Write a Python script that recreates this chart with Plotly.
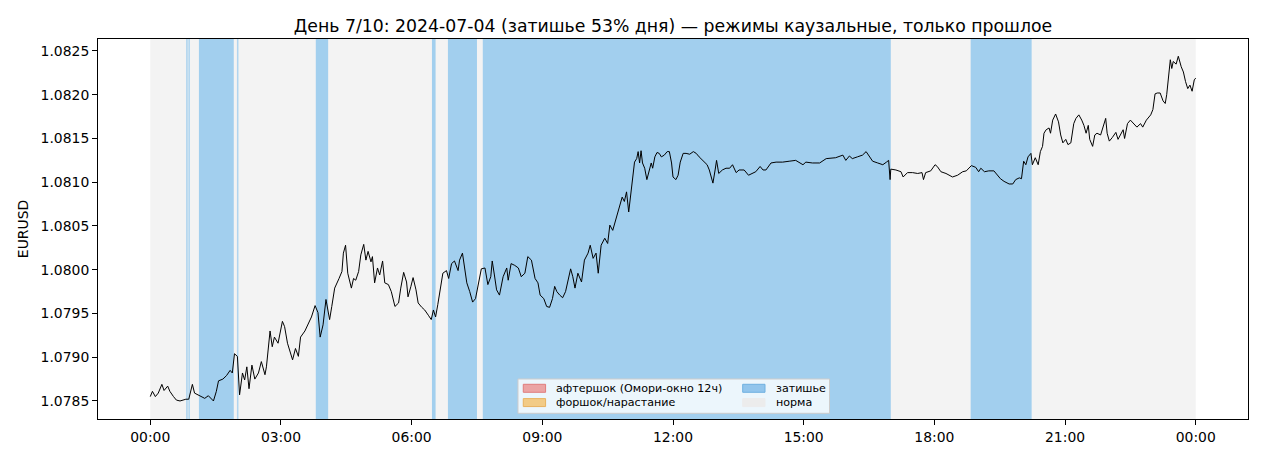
"""Day 7/10 EURUSD with causal regime spans (quiet / normal)."""
import pandas as pd
import plotly.graph_objects as go

DAY = pd.Timestamp("2024-07-04")
FONT = "DejaVu Sans, Arial, sans-serif"

# Colors
C_AFTER_FILL = "#eba4a4"
C_AFTER_EDGE = "#e07c7c"
C_FORE_FILL = "#f2cb86"
C_FORE_EDGE = "#e8b25f"
C_QUIET = "#a2cfee"
C_QUIET_LEG = "#92c5ec"
C_QUIET_EDGE = "#6fb0e0"
C_NORM = "#f3f3f3"

# minutes after midnight and EURUSD price
minutes = [
    0, 3, 7, 11, 16, 19, 24, 27, 32, 36, 41, 49, 53, 58, 61, 68, 75, 80, 87, 91,
    94, 100, 105, 110, 113, 116, 120, 123, 127, 130, 133, 136, 140, 144, 149, 153, 158, 160, 165, 168,
    171, 176, 182, 185, 189, 196, 200, 204, 207, 213, 218, 222, 227, 231, 234, 238, 242, 247, 250, 254,
    260, 264, 266, 269, 272, 277, 280, 283, 287, 290, 294, 297, 300, 304, 306, 309, 313, 316, 320, 323,
    328, 332, 337, 342, 345, 349, 353, 355, 359, 362, 366, 369, 374, 378, 383, 387, 390, 393, 396, 400,
    403, 408, 411, 415, 419, 424, 426, 430, 433, 436, 440, 444, 448, 452, 456, 461, 465, 469, 471, 474,
    477, 481, 486, 491, 493, 497, 502, 507, 511, 516, 520, 525, 530, 534, 537, 542, 546, 550, 554, 557,
    560, 564, 568, 572, 575, 579, 582, 585, 589, 594, 598, 603, 606, 610, 614, 617, 621, 626, 630, 633,
    637, 641, 644, 647, 650, 653, 656, 659, 662, 664, 667, 670, 672, 674, 676, 678, 681, 684, 687, 690,
    692, 695, 698, 701, 704, 708, 712, 715, 718, 720, 724, 727, 730, 734, 738, 743, 748, 752, 756, 760,
    763, 767, 770, 773, 775, 778, 780, 783, 788, 793, 798, 802, 807, 811, 818, 824, 830, 834, 840, 844,
    848, 855, 862, 871, 880, 889, 899, 903, 912, 922, 931, 944, 954, 958, 963, 967, 974, 981, 986, 990,
    995, 1002, 1009, 1014, 1017, 1019, 1020, 1027, 1034, 1037, 1043, 1050, 1057, 1063, 1065, 1068, 1075, 1081, 1084, 1089,
    1096, 1105, 1112, 1119, 1124, 1131, 1137, 1141, 1144, 1149, 1155, 1162, 1167, 1171, 1176, 1183, 1188, 1192, 1197, 1200,
    1203, 1206, 1209, 1213, 1215, 1219, 1223, 1226, 1229, 1231, 1234, 1238, 1240, 1243, 1247, 1251, 1254, 1257, 1261, 1264,
    1268, 1272, 1275, 1279, 1283, 1286, 1289, 1292, 1294, 1298, 1301, 1304, 1309, 1312, 1316, 1318, 1321, 1325, 1330, 1333,
    1336, 1340, 1342, 1346, 1350, 1355, 1359, 1364, 1367, 1372, 1378, 1381, 1384, 1387, 1391, 1395, 1398, 1400, 1403, 1405,
    1407, 1409, 1413, 1416, 1420, 1423, 1426, 1429, 1432, 1435, 1438, 1440,
]
price = [
    1.07855, 1.07861, 1.07855, 1.07859, 1.07869, 1.07862, 1.07867, 1.07861, 1.07855, 1.07851,
    1.07850, 1.07852, 1.07852, 1.07869, 1.07859, 1.07856, 1.07853, 1.07856, 1.07850, 1.07861,
    1.07873, 1.07875, 1.07879, 1.07885, 1.07882, 1.07904, 1.07901, 1.07857, 1.07882, 1.07874,
    1.07889, 1.07864, 1.07891, 1.07875, 1.07882, 1.07895, 1.07880, 1.07889, 1.07930, 1.07912,
    1.07923, 1.07916, 1.07941, 1.07935, 1.07916, 1.07897, 1.07910, 1.07901, 1.07923, 1.07930,
    1.07939, 1.07946, 1.07959, 1.07951, 1.07923, 1.07937, 1.07966, 1.07943, 1.07958, 1.07979,
    1.07990, 1.07998, 1.08019, 1.08028, 1.07996, 1.07979, 1.07990, 1.07988, 1.07998, 1.08017,
    1.08029, 1.08011, 1.08021, 1.08009, 1.08015, 1.07985, 1.08002, 1.07994, 1.08010, 1.07985,
    1.07983, 1.07975, 1.07958, 1.07962, 1.07979, 1.07997, 1.07986, 1.07969, 1.07981, 1.07991,
    1.07977, 1.07962, 1.07957, 1.07954, 1.07948, 1.07943, 1.07954, 1.07946, 1.07960, 1.07981,
    1.07996, 1.07999, 1.07990, 1.08007, 1.08010, 1.07999, 1.08011, 1.08019, 1.07999, 1.07985,
    1.07975, 1.07963, 1.07967, 1.07985, 1.08001, 1.08002, 1.07983, 1.07992, 1.08010, 1.07994,
    1.07977, 1.07971, 1.07992, 1.08002, 1.07988, 1.08007, 1.08005, 1.08002, 1.07992, 1.07996,
    1.08015, 1.08011, 1.07990, 1.07985, 1.07971, 1.07967, 1.07958, 1.07957, 1.07967, 1.07981,
    1.07975, 1.07971, 1.07968, 1.07975, 1.07988, 1.08001, 1.07992, 1.07979, 1.07996, 1.07986,
    1.08011, 1.08019, 1.08028, 1.08013, 1.08019, 1.07996, 1.08028, 1.08036, 1.08030, 1.08051,
    1.08045, 1.08057, 1.08066, 1.08072, 1.08083, 1.08078, 1.08089, 1.08066, 1.08087, 1.08099,
    1.08123, 1.08127, 1.08135, 1.08122, 1.08136, 1.08122, 1.08116, 1.08103, 1.08114, 1.08122,
    1.08116, 1.08129, 1.08134, 1.08133, 1.08129, 1.08131, 1.08135, 1.08135, 1.08122, 1.08106,
    1.08103, 1.08108, 1.08123, 1.08133, 1.08133, 1.08132, 1.08135, 1.08133, 1.08129, 1.08126,
    1.08123, 1.08120, 1.08114, 1.08105, 1.08099, 1.08114, 1.08125, 1.08110, 1.08114, 1.08116,
    1.08116, 1.08120, 1.08111, 1.08114, 1.08114, 1.08108, 1.08110, 1.08112, 1.08118, 1.08114,
    1.08114, 1.08122, 1.08123, 1.08123, 1.08124, 1.08125, 1.08120, 1.08123, 1.08122, 1.08122,
    1.08127, 1.08128, 1.08131, 1.08125, 1.08130, 1.08127, 1.08129, 1.08131, 1.08135, 1.08130,
    1.08124, 1.08122, 1.08120, 1.08123, 1.08125, 1.08103, 1.08115, 1.08114, 1.08112, 1.08106,
    1.08111, 1.08111, 1.08110, 1.08111, 1.08103, 1.08111, 1.08113, 1.08120, 1.08118, 1.08112,
    1.08110, 1.08106, 1.08108, 1.08112, 1.08113, 1.08119, 1.08117, 1.08112, 1.08116, 1.08112,
    1.08113, 1.08113, 1.08108, 1.08104, 1.08101, 1.08098, 1.08098, 1.08103, 1.08105, 1.08104,
    1.08124, 1.08120, 1.08129, 1.08133, 1.08120, 1.08128, 1.08120, 1.08135, 1.08141, 1.08156,
    1.08160, 1.08162, 1.08156, 1.08171, 1.08178, 1.08169, 1.08154, 1.08145, 1.08149, 1.08143,
    1.08145, 1.08167, 1.08173, 1.08177, 1.08171, 1.08165, 1.08156, 1.08165, 1.08149, 1.08141,
    1.08154, 1.08156, 1.08154, 1.08162, 1.08173, 1.08156, 1.08147, 1.08151, 1.08157, 1.08149,
    1.08154, 1.08160, 1.08150, 1.08167, 1.08171, 1.08167, 1.08163, 1.08167, 1.08163, 1.08171,
    1.08177, 1.08183, 1.08201, 1.08202, 1.08202, 1.08193, 1.08190, 1.08200, 1.08228, 1.08240,
    1.08230, 1.08238, 1.08235, 1.08244, 1.08232, 1.08226, 1.08215, 1.08207, 1.08211, 1.08204,
    1.08217, 1.08219,
]

# regime spans, minutes after midnight
normal_spans = [(0, 1440)]
quiet_spans = [(50, 51), (53, 54), (67, 115), (120, 121), (228, 245), (388, 393),
               (410, 450), (458, 1020), (1130, 1214)]

quiet_share = 53
y_ticks = [1.0785, 1.0790, 1.0795, 1.0800, 1.0805, 1.0810, 1.0815, 1.0820, 1.0825]

# legend: (label, fill, edge, column, row)
legend_items = [
    ("афтершок (Омори-окно 12ч)", C_AFTER_FILL, C_AFTER_EDGE, 0, 0),
    ("форшок/нарастание", C_FORE_FILL, C_FORE_EDGE, 0, 1),
    ("затишье", C_QUIET_LEG, C_QUIET_EDGE, 1, 0),
    ("норма", "#ececec", "#ececec", 1, 1),
]


def at(m):
    return DAY + pd.Timedelta(minutes=m)


times = [at(m) for m in minutes]

fig = go.Figure()

# background spans
for a, b in normal_spans:
    fig.add_vrect(x0=at(a), x1=at(b), fillcolor=C_NORM, opacity=1, layer="below", line_width=0)
for a, b in quiet_spans:
    thin = (b - a) < 3
    fig.add_vrect(x0=at(a), x1=at(b), fillcolor=C_QUIET, opacity=1, layer="below",
                  line=dict(color=C_QUIET, width=0.5 if thin else 0))

# price
fig.add_trace(go.Scatter(x=times, y=price, mode="lines", line=dict(color="black", width=1),
                         showlegend=False, hoverinfo="x+y"))

# legend drawn as a box of patches + labels (matplotlib style, 2 columns)
fig.add_shape(type="rect", xref="paper", yref="paper", x0=0.3652, x1=0.6361, y0=0.015, y1=0.1053,
              fillcolor="rgba(255,255,255,0.8)", line=dict(color="#cccccc", width=1), layer="above")
col_x = [0.3698, 0.5606]
row_y = [0.0808, 0.0432]
for label, fill, edge, col, row in legend_items:
    fig.add_shape(type="rect", xref="paper", yref="paper",
                  x0=col_x[col], x1=col_x[col] + 0.0194, y0=row_y[row] - 0.0105, y1=row_y[row] + 0.0105,
                  fillcolor=fill, line=dict(color=edge, width=1), layer="above")
    fig.add_annotation(x=col_x[col] + 0.027, y=row_y[row], xref="paper", yref="paper",
                       text=label, showarrow=False, xanchor="left", yanchor="middle",
                       font=dict(size=11.1, color="black"))

fig.update_xaxes(range=[at(-72), at(1512)], tickformat="%H:%M", dtick=3 * 3600 * 1000,
                 tick0=DAY, ticks="outside", ticklen=5, tickcolor="black",
                 showgrid=False, zeroline=False, showline=True, linecolor="black",
                 linewidth=1, mirror=True, tickfont=dict(size=13.9))
fig.update_yaxes(range=[1.078294, 1.082637], tickvals=y_ticks, tickformat=".4f",
                 title=dict(text="EURUSD", font=dict(size=13.9), standoff=8),
                 ticks="outside", ticklen=5, tickcolor="black",
                 showgrid=False, zeroline=False, showline=True, linecolor="black",
                 linewidth=1, mirror=True, tickfont=dict(size=13.9))

fig.update_layout(
    title=dict(text=f"День 7/10: 2024-07-04 (затишье {quiet_share}% дня) — режимы каузальные, только прошлое",
               x=0.5, xref="paper", xanchor="center", y=0.975, yanchor="top",
               font=dict(size=17.3, color="black")),
    font=dict(family=FONT, size=13.9, color="black"),
    paper_bgcolor="white",
    plot_bgcolor="white",
    width=1265, height=460,
    margin=dict(l=90, r=25, t=31, b=49),
    showlegend=False,
)

fig.write_html("out.html")
